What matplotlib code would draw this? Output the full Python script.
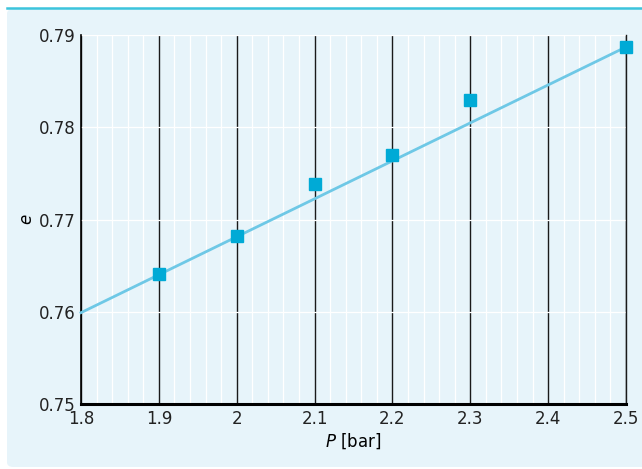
import numpy as np
import matplotlib.pyplot as plt
from matplotlib.patches import FancyBboxPatch
from matplotlib.lines import Line2D

# measured points
pressure = [1.9, 2.0, 2.1, 2.2, 2.3, 2.5]
efficiency = [0.7641, 0.7682, 0.7739, 0.7770, 0.7829, 0.7887]

# fitted line
fit_p = [1.8, 2.5]
fit_e = [0.7599, 0.7887]

x_ticks = [1.8, 1.9, 2.0, 2.1, 2.2, 2.3, 2.4, 2.5]
x_labels = ['1.8', '1.9', '2', '2.1', '2.2', '2.3', '2.4', '2.5']
y_ticks = [0.75, 0.76, 0.77, 0.78, 0.79]
y_labels = ['0.75', '0.76', '0.77', '0.78', '0.79']

bg = '#e7f4fa'

fig = plt.figure(figsize=(6.42, 4.69), dpi=100)
fig.patch.set_facecolor('white')

panel = FancyBboxPatch((7/642, 2/469), 640/642, 458/469,
                       boxstyle='round,pad=0,rounding_size=0.01',
                       transform=fig.transFigure, facecolor=bg,
                       edgecolor='none', zorder=-10)
fig.patches.append(panel)
fig.lines.append(Line2D([7/642, 1], [1 - 8.5/469, 1 - 8.5/469],
                        transform=fig.transFigure, color='#3cc4dc', lw=1.8))

ax = fig.add_axes([81/642, 1 - 404/469, 545/642, 369/469])
ax.set_facecolor(bg)

ax.set_xlim(1.8, 2.5)
ax.set_ylim(0.75, 0.79)
ax.set_xticks(x_ticks)
ax.set_xticklabels(x_labels)
ax.set_yticks(y_ticks)
ax.set_yticklabels(y_labels)
minor = [round(1.8 + 0.02 * i, 2) for i in range(36) if i % 5 != 0]
ax.set_xticks(minor, minor=True)

ax.grid(True, which='minor', axis='x', color='white', lw=0.9)
ax.grid(True, which='major', axis='y', color='white', lw=0.9)
ax.grid(True, which='major', axis='x', color='#1a1a1a', lw=1.0)
ax.set_axisbelow(True)

ax.spines['top'].set_visible(False)
ax.spines['right'].set_color('#1a1a1a')
ax.spines['right'].set_linewidth(1.0)
ax.spines['left'].set_linewidth(1.2)
ax.spines['bottom'].set_linewidth(2.2)
ax.tick_params(which='both', length=0, labelsize=12, colors='#222222', pad=4)

ax.plot(fit_p, fit_e, color='#6ec8e6', lw=2, zorder=3, clip_on=False)
ax.plot(pressure, efficiency, 's', color='#00aad6', ms=8.5, zorder=4, clip_on=False)

ax.set_xlabel(r'$P$ [bar]', fontsize=12, labelpad=3)
ax.set_ylabel(r'$e$', fontsize=12, labelpad=2)

fig.savefig('out.png', dpi=100, facecolor=fig.get_facecolor())
